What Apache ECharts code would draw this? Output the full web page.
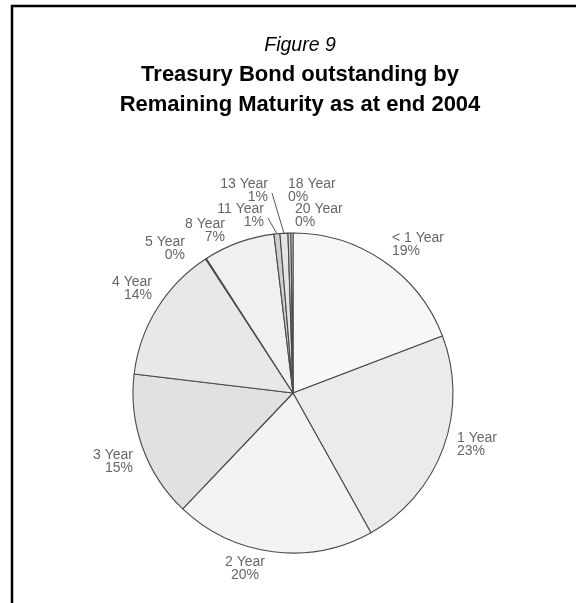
<!DOCTYPE html>
<html>
<head>
<meta charset="utf-8">
<script src="https://cdn.jsdelivr.net/npm/echarts@6/dist/echarts.min.js"></script>
<style>
  html, body { margin: 0; padding: 0; background: #fff; }
  #chart { width: 576px; height: 603px; }
</style>
</head>
<body>
<div id="chart"></div>
<script>
// Remaining maturity buckets and their share of outstanding bonds (%)
const categories = ['< 1 Year', '1 Year', '2 Year', '3 Year', '4 Year', '5 Year',
                    '8 Year', '11 Year', '13 Year', '18 Year', '20 Year'];
const shares = [19.2, 22.7, 20.2, 14.8, 13.9, 0.1, 7.2, 0.6, 0.8, 0.3, 0.2];

// Grey fills for each slice
const sliceFills = ['#f7f7f7', '#ebebeb', '#f3f3f3', '#e1e1e1', '#e8e8e8', '#dcdcdc',
                    '#f0f0f0', '#cfcfcf', '#e4e4e4', '#d0d0d0', '#eeeeee'];

// Pie geometry
const CX = 293, CY = 393, R = 160;

// Label anchors: [x, y (top of text block), align]
const labelSpots = [
  [392, 231, 'left'],
  [457, 431, 'left'],
  [245, 555, 'center'],
  [133, 448, 'right'],
  [152, 275, 'right'],
  [185, 235, 'right'],
  [225, 217, 'right'],
  [264, 202, 'right'],
  [268, 177, 'right'],
  [288, 177, 'left'],
  [295, 202, 'left']
];
// Slices whose labels get a leader line
const leaderSlices = [7, 8];

const total = shares.reduce((a, b) => a + b, 0);
function edgePoint(i) {
  let cum = 0;
  for (let k = 0; k < i; k++) cum += shares[k];
  const theta = (cum + shares[i] / 2) / total * 2 * Math.PI;
  return [CX + R * Math.sin(theta), CY - R * Math.cos(theta)];
}

const titleFont = 'Liberation Sans, Arial, sans-serif';
const TITLE_X = 295;
const chart = echarts.init(document.getElementById('chart'), null, { renderer: 'canvas' });

chart.setOption({
  animation: false,
  backgroundColor: '#fff',
  title: [
    {
      text: 'Figure 9',
      left: TITLE_X,
      textAlign: 'center',
      top: 31,
      textStyle: { fontFamily: titleFont, fontStyle: 'italic',
                   fontWeight: 'normal', fontSize: 19.5, color: '#000' }
    },
    {
      text: 'Treasury Bond outstanding by',
      left: TITLE_X,
      textAlign: 'center',
      top: 59,
      textStyle: { fontFamily: titleFont, fontWeight: 'bold', fontSize: 22, color: '#000' }
    },
    {
      text: 'Remaining Maturity as at end 2004',
      left: TITLE_X,
      textAlign: 'center',
      top: 89,
      textStyle: { fontFamily: titleFont, fontWeight: 'bold', fontSize: 22, color: '#000' }
    }
  ],
  graphic: [
    { type: 'line', shape: { x1: 11, y1: 6, x2: 576, y2: 6 },
      style: { stroke: '#000', lineWidth: 2.5 } },
    { type: 'line', shape: { x1: 12, y1: 5, x2: 12, y2: 603 },
      style: { stroke: '#000', lineWidth: 2.5 } }
  ],
  series: [{
    type: 'pie',
    center: [CX, CY],
    radius: R,
    startAngle: 90,
    clockwise: true,
    avoidLabelOverlap: false,
    minAngle: 0,
    percentPrecision: 2,
    itemStyle: { borderColor: '#4a4a4a', borderWidth: 1.1 },
    label: {
      show: true,
      position: 'outside',
      fontFamily: 'Liberation Sans, Arial, sans-serif',
      fontSize: 14,
      lineHeight: 13.5,
      color: '#666',
      formatter: p => p.name + '\n' + Math.round(p.percent) + '%'
    },
    labelLine: { show: false },
    labelLayout: function (params) {
      const i = params.dataIndex;
      const s = labelSpots[i];
      const out = { x: s[0], y: s[1], align: s[2], verticalAlign: 'top' };
      if (leaderSlices.indexOf(i) >= 0) {
        out.labelLinePoints = [[s[0] + 4, s[1] + 16], edgePoint(i)];
      }
      return out;
    },
    emphasis: { disabled: true },
    data: categories.map((name, i) => ({
      name: name,
      value: shares[i],
      itemStyle: { color: sliceFills[i] },
      labelLine: leaderSlices.indexOf(i) >= 0
        ? { show: true, length: 5, length2: 5, lineStyle: { color: '#555', width: 1 } }
        : { show: false }
    }))
  }]
});
</script>
</body>
</html>
